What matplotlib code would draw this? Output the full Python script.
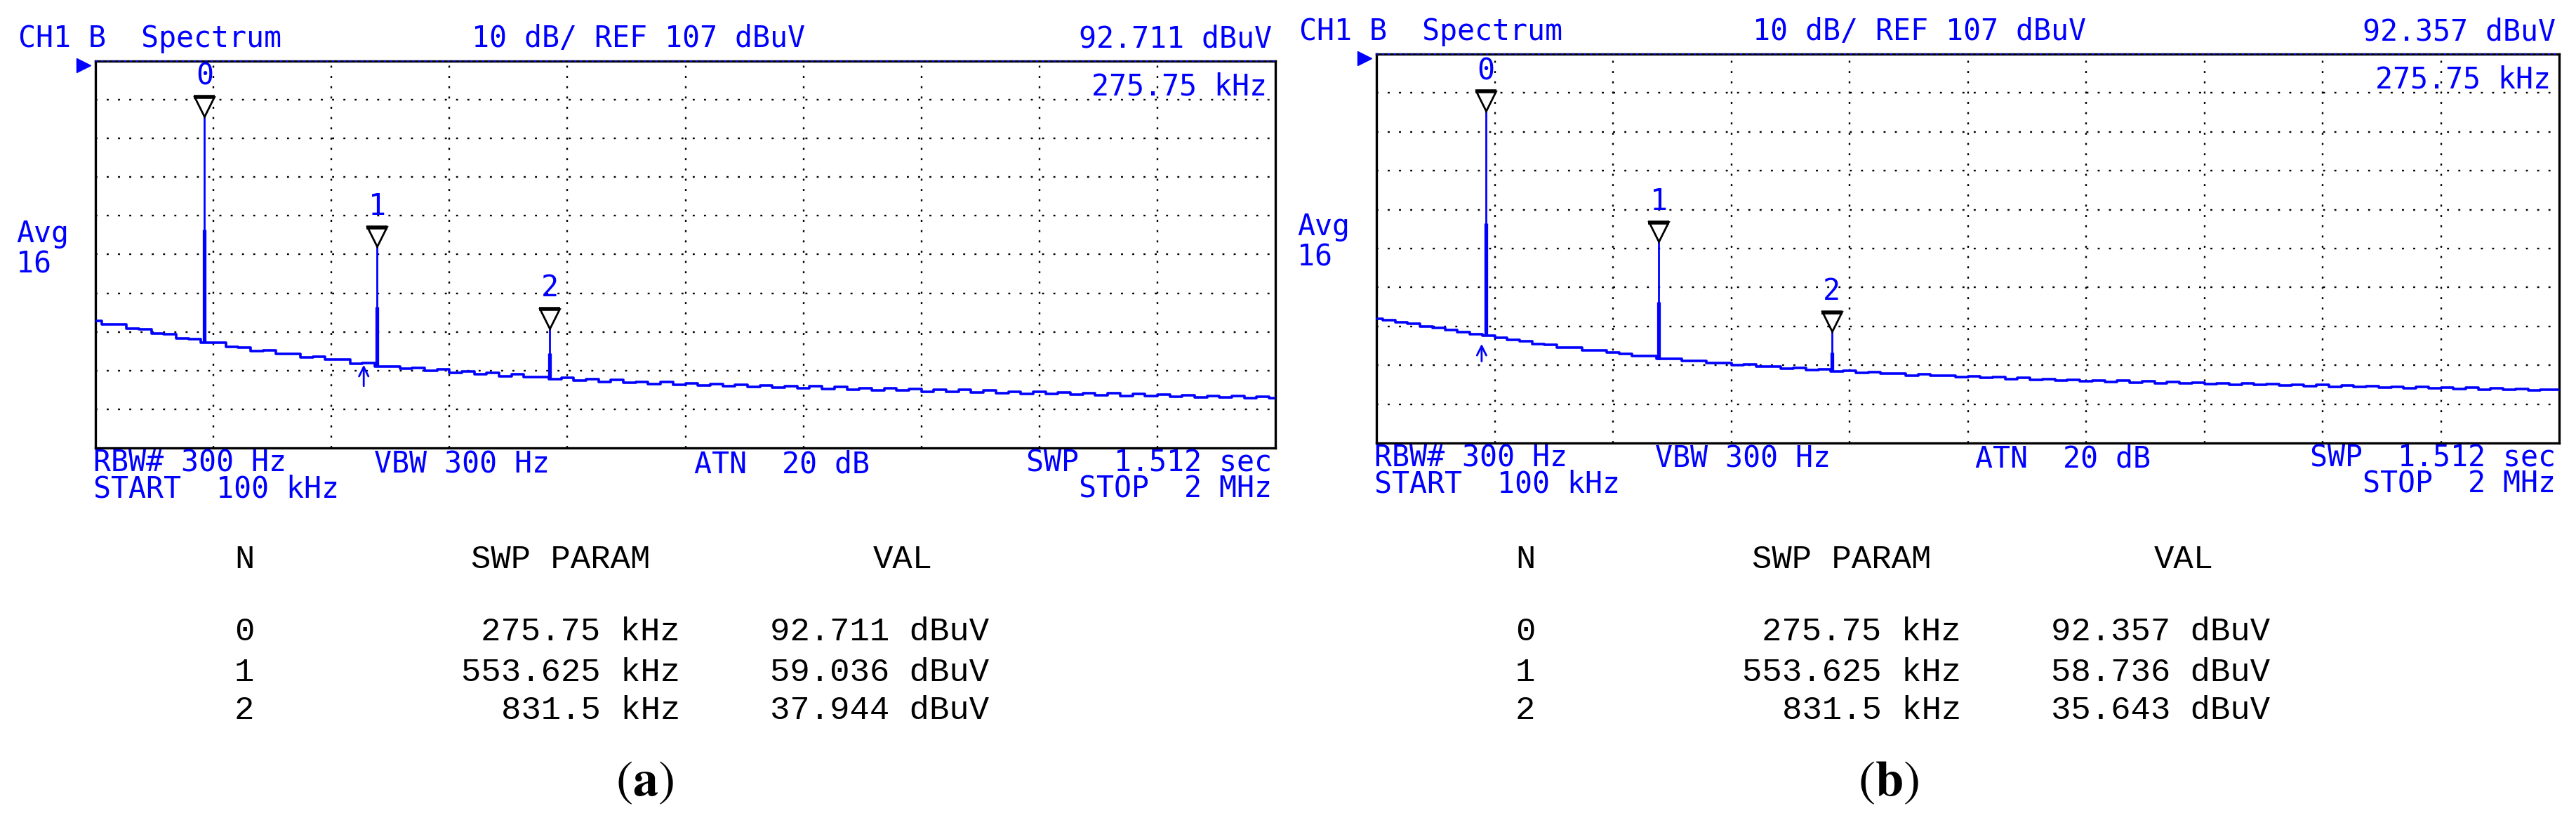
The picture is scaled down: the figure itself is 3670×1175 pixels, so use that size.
import numpy as np
import matplotlib
matplotlib.use('Agg')
from matplotlib import pyplot as plt
from matplotlib import transforms

plt.rcParams['mathtext.fontset'] = 'stix'

W, H = 3670, 1175
BLUE = '#0000ff'
MONO = 'DejaVu Sans Mono'
TMONO = 'Liberation Mono'

# sweep points (kHz), 100 kHz .. 2 MHz
freq = np.linspace(100, 2000, 96)

# noise floor (dBuV)
noise_a = [39.9, 39.0, 38.9, 37.8, 37.7, 36.5, 36.4, 35.4, 35.2, 34.3,
           34.2, 33.1, 33.0, 32.1, 32.2, 31.3, 31.3, 30.5, 30.6, 29.8,
           29.9, 28.8, 29.0, 28.0, 28.1, 27.5, 27.6, 27.0, 27.3, 26.5,
           26.8, 26.0, 26.4, 25.6, 26.0, 25.3, 25.4, 24.8, 25.2, 24.5,
           24.8, 24.1, 24.6, 23.9, 24.1, 23.5, 24.0, 23.3, 23.7, 23.2,
           23.5, 23.0, 23.3, 22.7, 23.2, 22.6, 23.0, 22.4, 22.9, 22.2,
           22.8, 22.1, 22.5, 21.9, 22.4, 21.8, 22.3, 21.6, 22.1, 21.5,
           22.0, 21.3, 21.8, 21.2, 21.6, 21.0, 21.5, 20.9, 21.4, 20.8,
           21.2, 20.6, 21.1, 20.5, 20.9, 20.4, 20.8, 20.2, 20.7, 20.1,
           20.5, 20.0, 20.4, 19.8, 20.2, 19.9]
noise_b = [38.9, 38.6, 38.0, 37.6, 37.0, 36.6, 36.0, 35.6, 35.0, 34.6,
           34.0, 33.6, 33.1, 32.4, 32.3, 31.6, 31.5, 30.8, 30.9, 30.2,
           30.0, 29.3, 29.4, 28.7, 28.6, 28.1, 28.2, 27.5, 27.6, 27.0,
           27.2, 26.6, 26.7, 26.2, 26.4, 25.8, 26.0, 25.5, 25.6, 25.1,
           25.3, 24.9, 24.9, 24.4, 24.7, 24.3, 24.4, 23.9, 24.2, 23.7,
           23.9, 23.5, 23.7, 23.3, 23.5, 23.0, 23.3, 22.9, 23.1, 22.7,
           23.0, 22.6, 22.8, 22.4, 22.7, 22.3, 22.6, 22.1, 22.4, 22.0,
           22.3, 21.9, 22.1, 21.8, 22.0, 21.6, 21.9, 21.5, 21.8, 21.4,
           21.6, 21.3, 21.5, 21.1, 21.4, 21.0, 21.3, 20.9, 21.2, 20.8,
           21.0, 20.7, 20.9, 20.6, 20.8, 20.7]

mk_freq = [275.75, 553.625, 831.5]
mk_val_a = [92.711, 59.036, 37.944]
mk_val_b = [92.357, 58.736, 35.643]
mk_floor_a = [34.4, 28.1, 25.1]
mk_floor_b = [34.6, 28.5, 25.4]
mk_shoulder_a = [63.4, 43.5, 31.5]
mk_shoulder_b = [63.5, 43.3, 30.3]
ref_arrow_a = (532, 22.5, 29.0)
ref_arrow_b = (269, 27.5, 33.0)

fig = plt.figure(figsize=(W / 100, H / 100), dpi=100)


def fx(x):
    return x / W


def fy(y):
    return 1 - y / H


def txt(x, y, s, ha='left', color=BLUE, family=MONO, size=30, **kw):
    fig.text(fx(x), fy(y), s, ha=ha, va='center', color=color,
             family=family, fontsize=size, **kw)


def panel(box, noise, vals, floors, shoulders, arrow, cap_x, cap):
    l, t, r, b = box
    ax = fig.add_axes([fx(l), fy(b), (r - l) / W, (b - t) / H])
    ax.set_xlim(100, 2000)
    ax.set_ylim(7, 107)
    ax.set_xticks([])
    ax.set_yticks([])
    for sp in ax.spines.values():
        sp.set_linewidth(2.4)
    # dotted 10x10 graticule
    for x in np.linspace(100, 2000, 11)[1:-1]:
        ax.axvline(x, color='k', lw=1.7, ls=(0, (1.2, 5.0)), zorder=1)
    for y in range(17, 107, 10):
        ax.axhline(y, color='k', lw=1.7, ls=(0, (1.2, 5.6)), zorder=1)
    ax.axhline(107, color=BLUE, lw=1.6, ls=(0, (1.2, 2.5)), zorder=6, clip_on=False)

    ax.plot(freq, noise, color=BLUE, lw=2.6, drawstyle='steps-mid', zorder=3)
    ax.vlines(mk_freq, floors, vals, color=BLUE, lw=2.0, zorder=3)
    ax.vlines(mk_freq, floors, shoulders, color=BLUE, lw=3.8, zorder=3)

    ms = 20
    tri = transforms.offset_copy(ax.transData, fig=fig, x=0, y=ms / 2, units='points')
    bar = transforms.offset_copy(ax.transData, fig=fig, x=0, y=ms, units='points')
    ax.plot(mk_freq, vals, ls='none', marker='v', ms=ms, mfc='white', mec='k',
            mew=2.0, transform=tri, zorder=6)
    ax.plot(mk_freq, vals, ls='none', marker='_', ms=ms + 2, mec='k',
            mew=4.0, transform=bar, zorder=7)
    for i, (f, v) in enumerate(zip(mk_freq, vals)):
        ax.annotate(str(i), (f, v), xytext=(0, ms + 6), textcoords='offset points',
                    ha='center', va='bottom', color=BLUE, family=MONO, fontsize=30)

    fa, y0, y1 = arrow
    ax.annotate('', xy=(fa, y1), xytext=(fa, y0),
                arrowprops=dict(arrowstyle='->', color=BLUE, lw=2.0, mutation_scale=24))

    ax.plot([-0.010], [0.99], marker='>', ms=14, color=BLUE,
            transform=ax.transAxes, clip_on=False)

    # instrument annotations
    txt(l - 110, t - 32, 'CH1 B  Spectrum')
    txt(l + 536, t - 32, '10 dB/ REF 107 dBuV')
    txt(r - 5, t - 32, f'{vals[0]:.3f} dBuV', ha='right')
    txt(r - 12, t + 36, f'{mk_freq[0]:g} kHz', ha='right')
    txt(l - 113, t + 268, 'Avg\n16', linespacing=1.05)
    txt(l - 3, b + 40, 'RBW# 300 Hz\nSTART  100 kHz', linespacing=0.82)
    txt(l + 397, b + 23, 'VBW 300 Hz')
    txt(l + 853, b + 23, 'ATN  20 dB')
    txt(r - 5, b + 40, 'SWP  1.512 sec\nSTOP  2 MHz', ha='right',
        multialignment='right', linespacing=0.82)

    # marker table
    k = dict(color='black', family=TMONO, size=34)
    txt(l + 198, 797, 'N', **k)
    txt(l + 535, 797, 'SWP PARAM', **k)
    txt(l + 1150, 797, 'VAL', ha='center', **k)
    for i, (f, v, y) in enumerate(zip(mk_freq, vals, [900, 958, 1012])):
        txt(l + 198, y, str(i), **k)
        txt(l + 833, y, f'{f:g} kHz', ha='right', **k)
        txt(l + 961, y, f'{v:.3f} dBuV', **k)

    fig.text(fx(cap_x), fy(1117), '(' + r'$\mathbf{' + cap + '}$' + ')',
             ha='center', va='center', family='STIXGeneral', fontsize=52, color='black')


panel((136, 87, 1817, 638), noise_a, mk_val_a, mk_floor_a, mk_shoulder_a,
      ref_arrow_a, 918, 'a')
panel((1961, 77, 3646, 631), noise_b, mk_val_b, mk_floor_b, mk_shoulder_b,
      ref_arrow_b, 2690, 'b')

plt.savefig('out.png', dpi=100)
